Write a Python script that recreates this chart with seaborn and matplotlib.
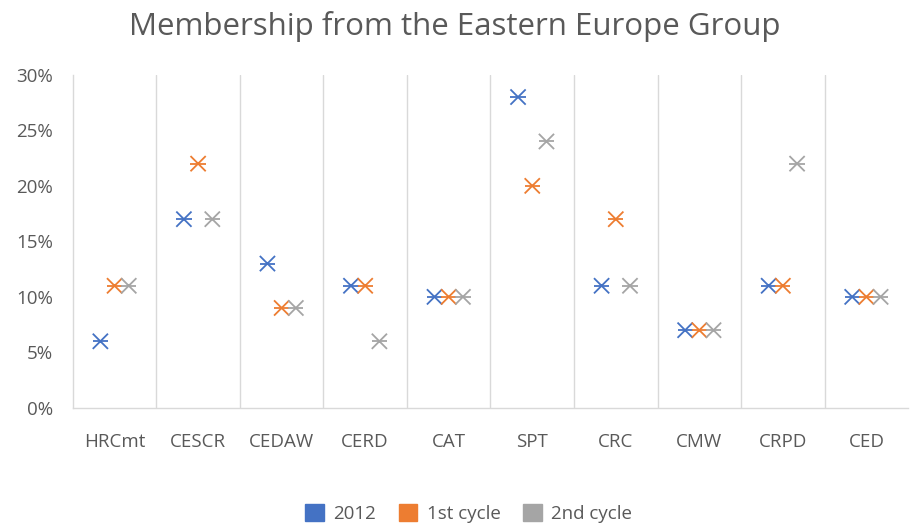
import matplotlib
matplotlib.use("Agg")
import matplotlib.pyplot as plt
import matplotlib.patches as mpatches
import seaborn as sns
import numpy as np
import pandas as pd

categories = ["HRCmt", "CESCR", "CEDAW", "CERD", "CAT", "SPT", "CRC", "CMW", "CRPD", "CED"]
series_names = ["2012", "1st cycle", "2nd cycle"]
vals_2012 = [6, 17, 13, 11, 10, 28, 11, 7, 11, 10]
vals_1st = [11, 22, 9, 11, 10, 20, 17, 7, 11, 10]
vals_2nd = [11, 17, 9, 6, 10, 24, 11, 7, 22, 10]
yticks = [0, 5, 10, 15, 20, 25, 30]

colors = ["#4472C4", "#ED7D31", "#A5A5A5"]
text_col = "#595959"
grid_col = "#D9D9D9"

# long table, dodge each series a bit inside its category
offsets = [-0.17, 0.0, 0.17]
rows = []
for name, vals, off in zip(series_names, [vals_2012, vals_1st, vals_2nd], offsets):
    for i, v in enumerate(vals):
        rows.append({"series": name, "pos": i + off, "value": v})
df = pd.DataFrame(rows)

sns.set_style("white")
plt.rcParams["font.family"] = ["Open Sans", "DejaVu Sans"]

fig = plt.figure(figsize=(9.1, 5.27), dpi=100)
ax = fig.add_axes([0.080, 0.226, 0.918, 0.632])

palette = dict(zip(series_names, colors))
for mk in ["x", "_"]:
    sns.scatterplot(data=df, x="pos", y="value", hue="series", palette=palette,
                    marker=mk, s=120, linewidth=1.3, legend=False, ax=ax)

ax.set_xlim(-0.5, len(categories) - 0.5)
ax.set_ylim(0, 30)
ax.set_xticks(range(len(categories)))
ax.set_xticklabels(categories)
ax.set_yticks(yticks)
ax.set_yticklabels([f"{t}%" for t in yticks])
ax.set_xlabel("")
ax.set_ylabel("")
for b in np.arange(0.5, len(categories) - 0.5, 1.0):
    ax.axvline(b, color=grid_col, lw=1, zorder=0)
for side in ["top", "right"]:
    ax.spines[side].set_visible(False)
for side in ["left", "bottom"]:
    ax.spines[side].set_color(grid_col)
    ax.spines[side].set_linewidth(1)
ax.tick_params(axis="both", length=0, labelsize=13.5, labelcolor=text_col)
ax.tick_params(axis="x", pad=18)
ax.tick_params(axis="y", pad=14)

fig.suptitle("Membership from the Eastern Europe Group", fontsize=22.5,
             color=text_col, y=0.98)

handles = [mpatches.Patch(facecolor=c, edgecolor=c, label=n) for c, n in zip(colors, series_names)]
fig.legend(handles=handles, loc="lower center", ncol=3, frameon=False,
           fontsize=13.5, labelcolor=text_col, bbox_to_anchor=(0.515, -0.025),
           handlelength=1.0, handleheight=1.0, handletextpad=0.5, columnspacing=1.2)

fig.savefig("out.png", dpi=100)
